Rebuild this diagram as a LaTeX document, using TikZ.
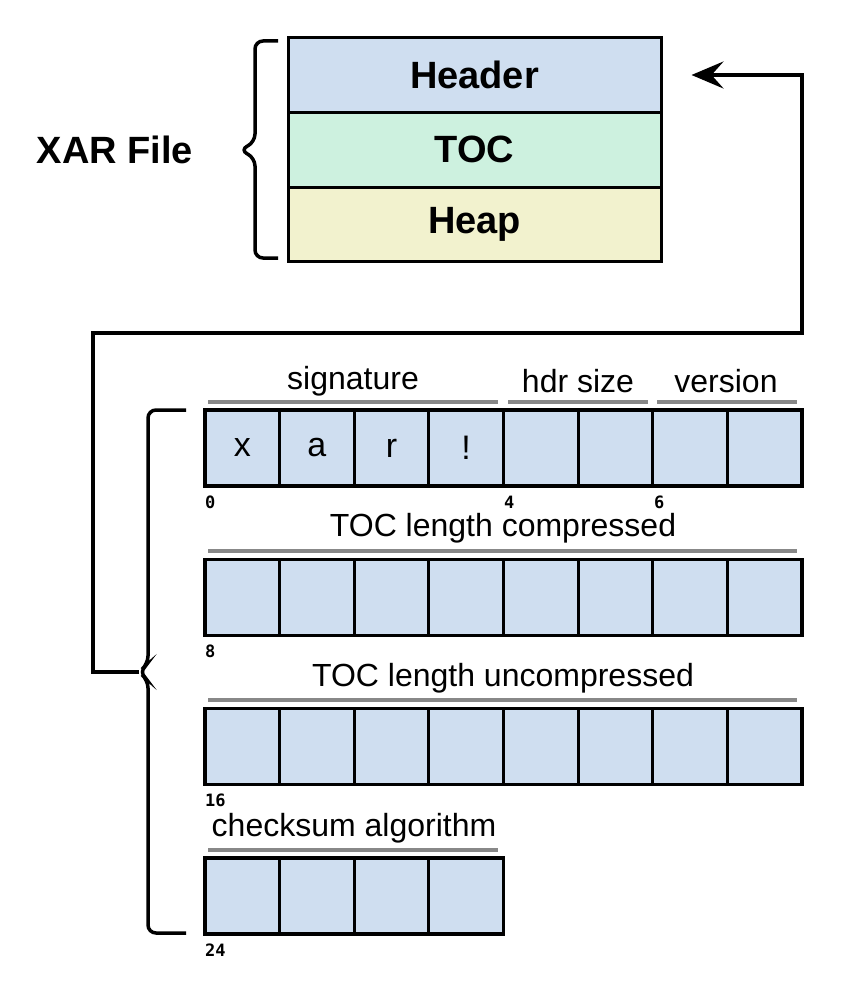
\documentclass[tikz,border=0pt]{standalone}
\usepackage{fontspec}
\setmainfont{Liberation Sans}
\newfontfamily\offfont{DejaVu Sans Mono}
\usetikzlibrary{arrows.meta}
\definecolor{boxblue}{RGB}{207,222,240}
\definecolor{boxgreen}{RGB}{205,241,223}
\definecolor{boxyellow}{RGB}{242,242,206}
\definecolor{rulegray}{RGB}{136,136,136}
\tikzset{
  part/.style={draw=black, line width=3pt, minimum width=373pt, minimum height=74.7pt, inner sep=0pt,
    font=\fontsize{38}{42}\selectfont\bfseries},
  cell/.style={draw=black, line width=3.2pt, fill=boxblue, minimum width=74.6pt, minimum height=76pt, inner sep=0pt},
  cellchar/.style={inner sep=0pt, font=\fontsize{34}{38}\selectfont},
  fieldlabel/.style={inner sep=0pt, font=\fontsize{32}{36}\selectfont},
  offset/.style={anchor=west, inner sep=0pt, font=\offfont\bfseries\fontsize{17}{20}\selectfont},
  fieldrule/.style={draw=rulegray, line width=4pt},
  bracket/.style={draw=black, line width=3.5pt, rounded corners=8pt},
  conn/.style={draw=black, line width=3.5pt, -{Stealth[length=32pt,width=27pt,inset=12pt]}},
}
\begin{document}
\begin{tikzpicture}[x=1pt,y=-1pt]
\useasboundingbox (0,0) rectangle (840,992);
\fill[white] (0,0) rectangle (840,992);

% XAR file structure
\node[part, fill=boxblue] (header) at (474.5,75) {Header};
\node[part, fill=boxgreen] (toc) at (474.5,149.7) {TOC};
\node[part, fill=boxyellow] (heap) at (474.5,224.4) {Heap};
\node[inner sep=0pt, font=\fontsize{38}{42}\selectfont\bfseries] (xar) at (115,150) {XAR File};
\draw[bracket] (278,41) -- (255,41) -- (255,142) -- (240,150) -- (255,158) -- (255,258) -- (278,258);

% byte rows
\foreach \i in {0,...,7} {
  \node[cell] (ra\i) at ({205+74.625*(\i+0.5)},448) {};
  \node[cell] (rb\i) at ({205+74.625*(\i+0.5)},597.5) {};
  \node[cell] (rc\i) at ({205+74.625*(\i+0.5)},746.5) {};
}
\foreach \i in {0,...,3} {
  \node[cell] (rd\i) at ({205+74.625*(\i+0.5)},896) {};
}
\node[cellchar] (cx) at (ra0) {x};
\node[cellchar] (ca) at (ra1) {a};
\node[cellchar] (cr) at (ra2) {r};
\node[cellchar] (ce) at (ra3) {!};

% field rules and labels
\draw[fieldrule] (208,402) -- (498,402);
\draw[fieldrule] (508,402) -- (648,402);
\draw[fieldrule] (657,402) -- (797,402);
\draw[fieldrule] (208,551) -- (797,551);
\draw[fieldrule] (208,700) -- (797,700);
\draw[fieldrule] (208,850) -- (498,850);
\node[fieldlabel] (lsig) at (353,381) {signature};
\node[fieldlabel] (lhdr) at (578,381) {hdr size};
\node[fieldlabel] (lver) at (726,381) {version};
\node[fieldlabel] (ltlc) at (503,528) {TOC length compressed};
\node[fieldlabel] (ltlu) at (503,678) {TOC length uncompressed};
\node[fieldlabel] (lchk) at (354,828) {checksum algorithm};

% offsets
\node[offset] (o0) at (205,502) {0};
\node[offset] (o4) at (504,502) {4};
\node[offset] (o6) at (654,502) {6};
\node[offset] (o8) at (205,651) {8};
\node[offset] (o16) at (205,800) {16};
\node[offset] (o24) at (205,950) {24};

% header bracket and connector
\draw[bracket] (186,410) -- (148,410) -- (148,664) -- (139,672) -- (148,680) -- (148,933) -- (186,933);
\coordinate (btip) at (139,672);
\coordinate (arrowend) at ([xshift=29pt]header.east);
\draw[conn] (btip) -- (93,672) -- (93,333) -- (802,333) -- (802,75) -- (arrowend);
\end{tikzpicture}
\end{document}
